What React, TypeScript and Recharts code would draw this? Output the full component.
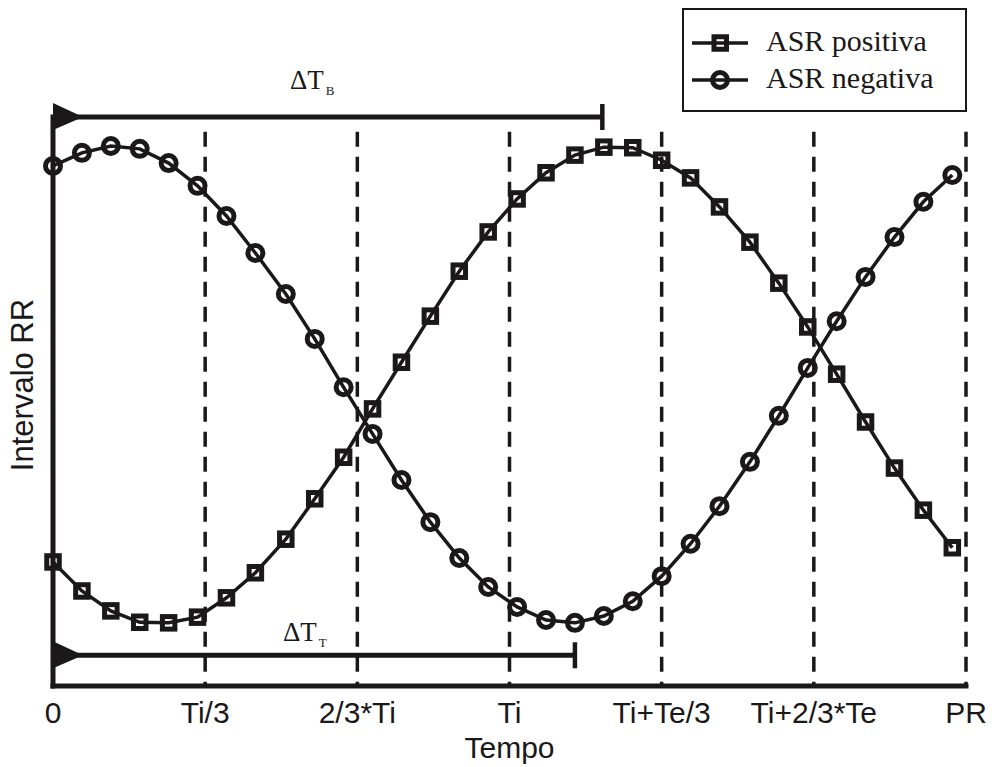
import React from 'react'
import { LineChart, Line, XAxis, YAxis, ReferenceLine, Legend } from 'recharts'

const xTicks = [0, 1, 2, 3, 4, 5, 6]
const xTickLabels = ['0', 'Ti/3', '2/3*Ti', 'Ti', 'Ti+Te/3', 'Ti+2/3*Te', 'PR']

const tempo = [
  0.0, 0.19, 0.38, 0.57, 0.76, 0.95, 1.14, 1.33, 1.53, 1.72, 1.91, 2.1, 2.29, 2.48, 2.67, 2.86,
  3.05, 3.24, 3.43, 3.62, 3.81, 4.0, 4.19, 4.38, 4.58, 4.77, 4.96, 5.15, 5.34, 5.53, 5.72, 5.91,
]
const asrPositiva = [
  21.8, 16.7, 13.2, 11.2, 11.1, 12.1, 15.5, 19.9, 25.8, 32.9, 40.2, 48.7, 56.9, 65.0, 72.9, 79.8,
  85.6, 90.2, 93.3, 94.7, 94.6, 92.4, 89.3, 84.2, 78.0, 70.8, 63.1, 54.8, 46.4, 38.3, 30.9, 24.3,
]
const asrNegativa = [
  91.4, 93.7, 94.9, 94.4, 91.9, 87.9, 82.6, 76.1, 68.9, 61.0, 52.5, 44.3, 36.2, 28.8, 22.5, 17.4,
  13.9, 11.6, 11.1, 12.3, 14.9, 19.3, 25.0, 31.6, 39.4, 47.5, 55.9, 64.1, 71.9, 78.9, 85.1, 89.8,
]

// time spans drawn as arrows
const deltaB = { end: 3.61, level: 100 }
const deltaT = { end: 3.43, level: 5.4 }

const data = tempo.map((t, i) => ({ t, pos: asrPositiva[i], neg: asrNegativa[i] }))

const ink = '#1a1818'
const sans = '"Liberation Sans", Arial, sans-serif'
const serif = '"Liberation Serif", "Times New Roman", serif'

const SquareDot = (p: any) => {
  if (p.cx == null || p.cy == null) return <g key={p.index} />
  return (
    <rect
      key={p.index}
      x={p.cx - 6.25}
      y={p.cy - 6.25}
      width={12.5}
      height={12.5}
      fill="none"
      stroke={ink}
      strokeWidth={5}
    />
  )
}

const CircleDot = (p: any) => {
  if (p.cx == null || p.cy == null) return <g key={p.index} />
  return <circle key={p.index} cx={p.cx} cy={p.cy} r={7.5} fill="none" stroke={ink} strokeWidth={5} />
}

const spanShape = (sub: string, dx: number, dy: number) => (p: any) => {
  const { x1, y1, x2 } = p
  return (
    <g>
      <line x1={x1} y1={y1} x2={x2} y2={y1} stroke={ink} strokeWidth={5} />
      <polygon points={`${x1},${y1 - 14} ${x1 + 30},${y1} ${x1},${y1 + 13}`} fill={ink} />
      <line x1={x2} y1={y1 - 13} x2={x2} y2={y1 + 13} stroke={ink} strokeWidth={4.5} />
      <text x={x1 + dx} y={y1 + dy} fontFamily={serif} fontSize={27} fill={ink}>
        ΔT
        <tspan fontSize={13} dy={6} dx={2}>
          {sub}
        </tspan>
      </text>
    </g>
  )
}

const LegendBox = () => (
  <div
    style={{
      position: 'relative',
      width: 285,
      height: 104,
      boxSizing: 'border-box',
      border: `2.5px solid ${ink}`,
      background: '#fff',
      fontFamily: serif,
      fontSize: 30,
      color: ink,
    }}
  >
    {[
      { name: 'ASR positiva', square: true, cy: 33 },
      { name: 'ASR negativa', square: false, cy: 70 },
    ].map(r => (
      <div key={r.name} style={{ position: 'absolute', left: 0, top: r.cy - 15, height: 30, width: '100%' }}>
        <svg width={60} height={30} style={{ position: 'absolute', left: 8, top: 0 }}>
          <line x1={0} y1={15} x2={56} y2={15} stroke={ink} strokeWidth={3.5} />
          {r.square ? (
            <rect x={22} y={8.75} width={12.5} height={12.5} fill="none" stroke={ink} strokeWidth={5} />
          ) : (
            <circle cx={28} cy={15} r={7.5} fill="none" stroke={ink} strokeWidth={5} />
          )}
        </svg>
        <span style={{ position: 'absolute', left: 82, top: -2, lineHeight: '30px', whiteSpace: 'nowrap' }}>
          {r.name}
        </span>
      </div>
    ))}
  </div>
)

export default function App() {
  return (
    <div style={{ position: 'absolute', left: 0, top: 0, width: 992, height: 767, background: '#fff' }}>
      <LineChart width={992} height={767} data={data} margin={{ top: 117, right: 26, bottom: 0, left: 13 }}>
        <XAxis
          dataKey="t"
          type="number"
          domain={[0, 6]}
          ticks={xTicks}
          tickFormatter={(v: number) => xTickLabels[v]}
          height={81}
          tickLine={false}
          tickSize={6}
          tickMargin={10}
          axisLine={{ stroke: ink, strokeWidth: 5, strokeLinecap: 'square' }}
          tick={{ fontFamily: sans, fontSize: 30, fill: ink }}
          interval={0}
          label={{ value: 'Tempo', position: 'insideBottom', offset: 9, fontFamily: sans, fontSize: 30, fill: ink }}
        />
        <YAxis
          type="number"
          domain={[0, 100]}
          width={40}
          tick={false}
          tickLine={false}
          axisLine={{ stroke: ink, strokeWidth: 5, strokeLinecap: 'square' }}
          label={{
            content: () => (
              <text
                transform="translate(33,385) rotate(-90)"
                textAnchor="middle"
                fontFamily={sans}
                fontSize={31}
                fill={ink}
              >
                Intervalo RR
              </text>
            ),
          }}
        />
        {xTicks.slice(1).map(k => (
          <ReferenceLine
            key={k}
            segment={[
              { x: k, y: 97.4 },
              { x: k, y: 0 },
            ]}
            stroke={ink}
            strokeWidth={3.5}
            strokeDasharray="15 10"
          />
        ))}
        <ReferenceLine
          segment={[
            { x: 0, y: deltaB.level },
            { x: deltaB.end, y: deltaB.level },
          ]}
          shape={spanShape('B', 237, -28)}
        />
        <ReferenceLine
          segment={[
            { x: 0, y: deltaT.level },
            { x: deltaT.end, y: deltaT.level },
          ]}
          shape={spanShape('T', 230, -14)}
        />
        <Line
          dataKey="pos"
          name="ASR positiva"
          type="linear"
          stroke={ink}
          strokeWidth={3.5}
          dot={SquareDot}
          activeDot={false}
          isAnimationActive={false}
        />
        <Line
          dataKey="neg"
          name="ASR negativa"
          type="linear"
          stroke={ink}
          strokeWidth={3.5}
          dot={CircleDot}
          activeDot={false}
          isAnimationActive={false}
        />
        <Legend
          layout="vertical"
          align="center"
          verticalAlign="middle"
          wrapperStyle={{ left: 682, top: 8, width: 285, height: 104 }}
          content={() => <LegendBox />}
        />
      </LineChart>
    </div>
  )
}
